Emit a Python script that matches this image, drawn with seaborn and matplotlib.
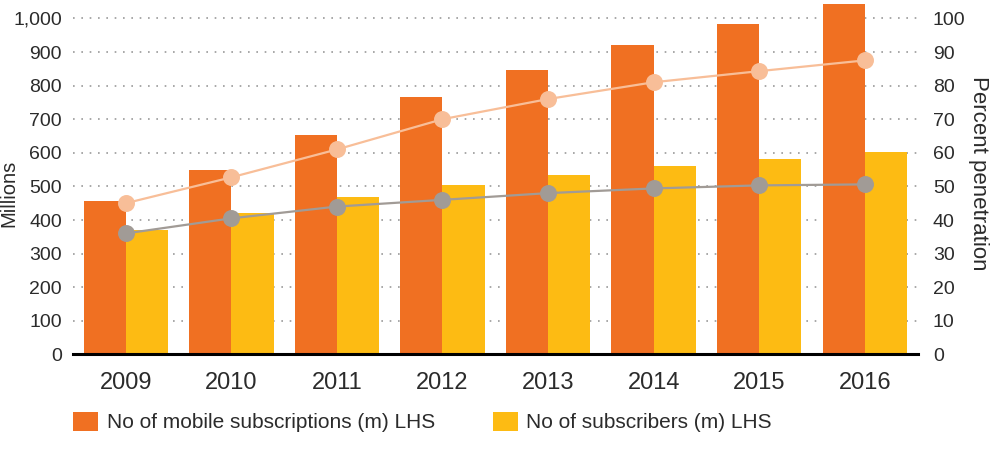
import matplotlib
matplotlib.use("Agg")
import matplotlib.pyplot as plt
import seaborn as sns
import pandas as pd
from matplotlib.patches import Patch

years = ["2009", "2010", "2011", "2012", "2013", "2014", "2015", "2016"]
mobile_subscriptions = [458, 548, 652, 765, 845, 920, 982, 1042]
subscribers = [369, 420, 467, 503, 535, 560, 583, 601]
pen_subscriptions = [45, 52.7, 61, 70, 76, 81, 84.3, 87.5]
pen_subscribers = [36, 40.5, 44, 46, 48, 49.4, 50.3, 50.6]
left_ticks = [0, 100, 200, 300, 400, 500, 600, 700, 800, 900, 1000]
right_ticks = [0, 10, 20, 30, 40, 50, 60, 70, 80, 90, 100]

s1 = "No of mobile subscriptions (m) LHS"
s2 = "No of subscribers (m) LHS"
c_orange = "#F07022"
c_yellow = "#FDBB13"
c_light = "#F8BE98"
c_gray = "#A19B96"
txt = "#2b2b2b"

sns.set_theme(style="white")
plt.rcParams['font.family'] = ['Liberation Sans', 'DejaVu Sans']

df = pd.DataFrame({
    "year": years * 2,
    "value": mobile_subscriptions + subscribers,
    "series": [s1] * len(years) + [s2] * len(years),
})

fig = plt.figure(figsize=(10.03, 4.57), dpi=100)
ax = fig.add_axes([0.0728, 0.2245, 0.842, 0.772])
ax.set_axisbelow(True)
sns.barplot(data=df, x="year", y="value", hue="series", palette=[c_orange, c_yellow],
            width=0.8, saturation=1, ax=ax, legend=False, linewidth=0)
ax.set_ylim(0, 1050)
ax.set_xlim(-0.5, 7.5)
ax.set_yticks(left_ticks)
ax.set_yticklabels([f"{v:,}" for v in left_ticks])
ax.yaxis.grid(True, linestyle=(0, (1, 4)), color="#9a9a9a", linewidth=1.2)
ax.xaxis.grid(False)
for sp in ["top", "right", "left"]:
    ax.spines[sp].set_visible(False)
ax.spines["bottom"].set_color("black")
ax.spines["bottom"].set_linewidth(2.2)
ax.tick_params(axis="y", length=0, pad=8, labelsize=14, labelcolor=txt)
ax.tick_params(axis="x", length=0, pad=13, labelsize=17, labelcolor=txt)
ax.set_xlabel("")
ax.set_ylabel("Millions", fontsize=14.5, color=txt, va="center", ha="center")
ax.yaxis.set_label_coords(-0.0757, 0.457)

ax2 = ax.twinx()
pdf = pd.DataFrame({"year": years, "a": pen_subscriptions, "b": pen_subscribers})
sns.pointplot(data=pdf, x="year", y="a", color=c_light, ax=ax2, markers="o",
              markersize=11, linewidth=1.6)
sns.pointplot(data=pdf, x="year", y="b", color=c_gray, ax=ax2, markers="o",
              markersize=11, linewidth=1.6)
ax2.set_ylim(0, 105)
ax2.set_xlim(-0.5, 7.5)
ax2.set_yticks(right_ticks)
ax2.set_yticklabels([str(v) for v in right_ticks])
ax2.tick_params(axis="y", length=0, pad=11, labelsize=14, labelcolor=txt)
ax2.set_ylabel("Percent penetration", fontsize=16, color=txt, rotation=-90,
               va="center", ha="center")
ax2.yaxis.set_label_coords(1.072, 0.514)
ax2.set_xlabel("")
for sp in ["top", "right", "left", "bottom"]:
    ax2.spines[sp].set_visible(False)
ax2.grid(False)

handles = [Patch(facecolor=c_orange, edgecolor="none"), Patch(facecolor=c_yellow, edgecolor="none")]
fig.legend(handles, [s1, s2], loc="center left", bbox_to_anchor=(73 / 1003, 1 - 422 / 457),
           ncol=2, frameon=False, fontsize=15, handlelength=1.2, handleheight=1.06,
           handletextpad=0.43, columnspacing=2.75, labelcolor=txt,
           borderpad=0, borderaxespad=0)

fig.savefig("out.png", dpi=100)
